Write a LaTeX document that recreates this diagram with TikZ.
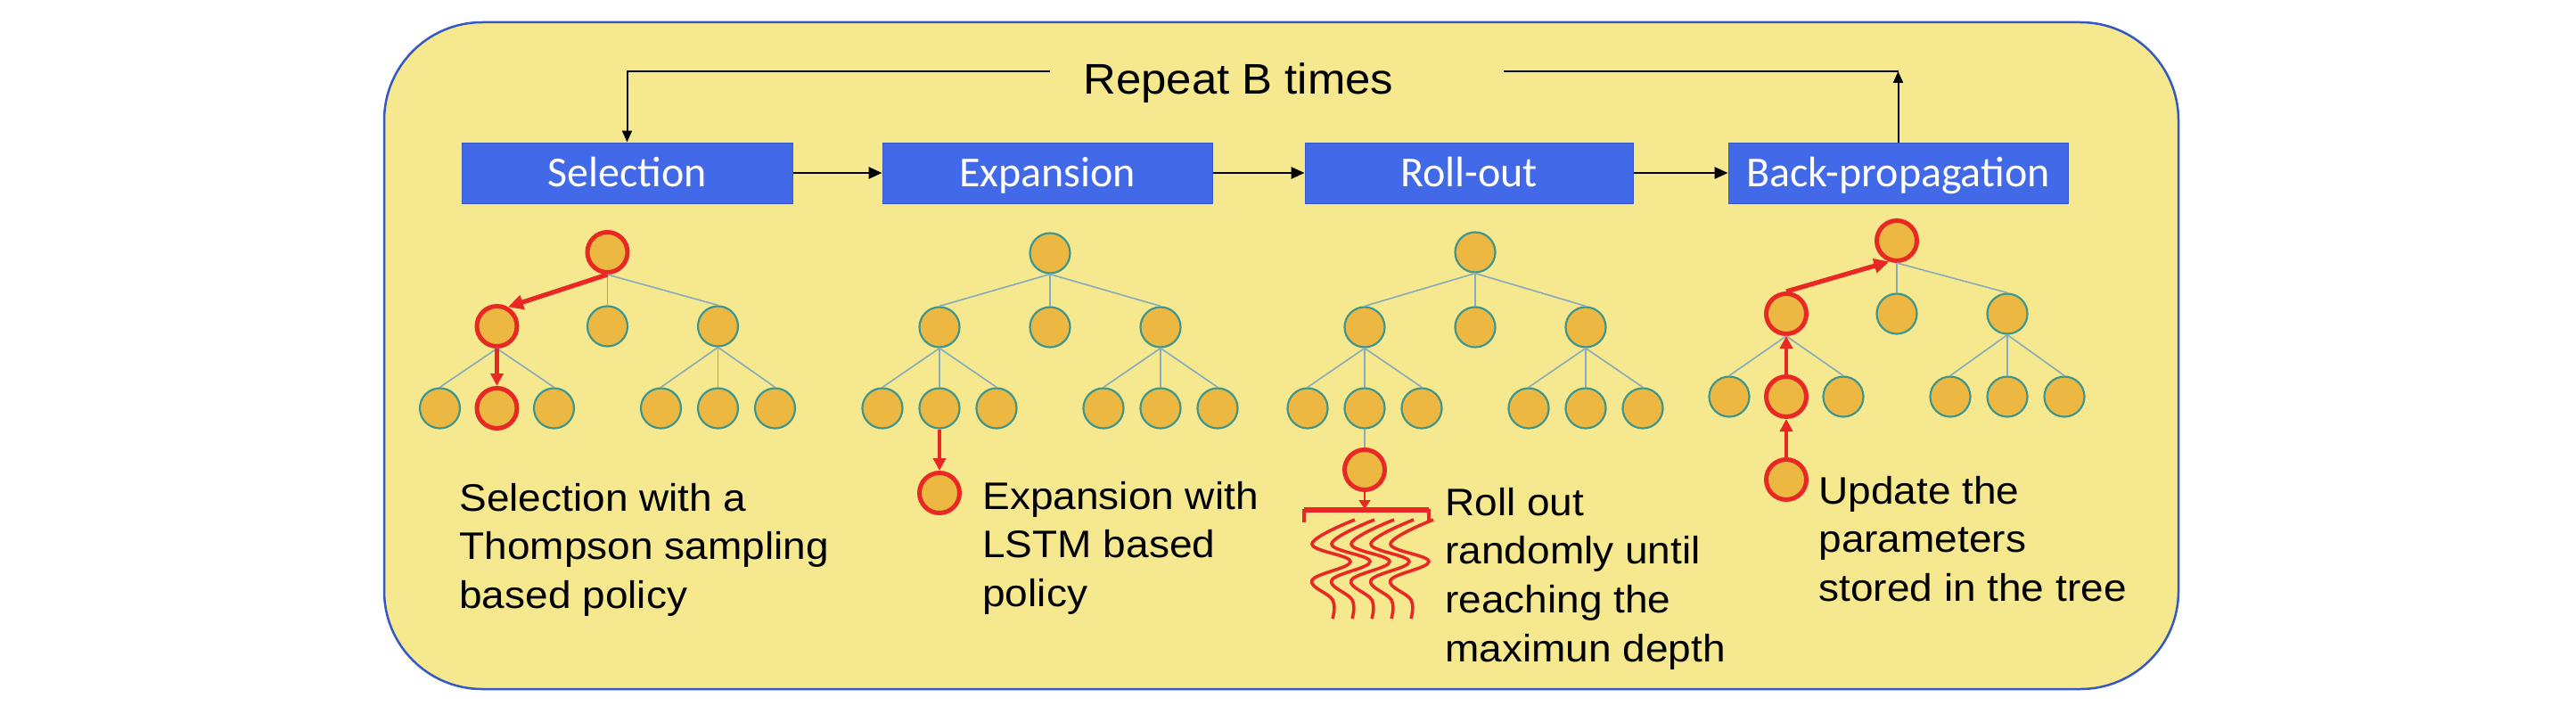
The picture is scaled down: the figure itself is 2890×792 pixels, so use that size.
\documentclass[tikz,border=0pt]{standalone}
\usepackage{fontspec}
\setmainfont[FakeStretch=1.07]{Liberation Sans}
\newfontfamily\titlefont[FakeStretch=1.06]{Liberation Sans}
\newfontfamily\boxfont{Carlito}
\usetikzlibrary{arrows.meta}
\definecolor{bgyellow}{RGB}{245,232,142}
\definecolor{frameblue}{RGB}{52,88,196}
\definecolor{boxblue}{RGB}{66,106,232}
\definecolor{nodefill}{RGB}{236,184,66}
\definecolor{nodeline}{RGB}{62,150,140}
\definecolor{edgecol}{RGB}{135,170,188}
\definecolor{hired}{RGB}{232,40,36}
\newcommand\tblock[1]{\vtop{\baselineskip=27.4pt #1}}
\newcommand\mctstree[5]{%
  \node[tn,hl-#1/.try] (#1) at (#2,#3) {};
  \node[tn,hl-#1a/.try] (#1a) at (#2-124,#4) {};
  \node[tn,hl-#1b/.try] (#1b) at (#2,#4) {};
  \node[tn,hl-#1c/.try] (#1c) at (#2+124,#4) {};
  \node[tn,hl-#1aa/.try] (#1aa) at (#2-188,#5) {};
  \node[tn,hl-#1ab/.try] (#1ab) at (#2-124,#5) {};
  \node[tn,hl-#1ac/.try] (#1ac) at (#2-60,#5) {};
  \node[tn,hl-#1ca/.try] (#1ca) at (#2+60,#5) {};
  \node[tn,hl-#1cb/.try] (#1cb) at (#2+124,#5) {};
  \node[tn,hl-#1cc/.try] (#1cc) at (#2+188,#5) {};
  \draw[treeedge,e-#1a/.try] (#1.south) -- (#1a.north);
  \draw[treeedge,e-#1b/.try] (#1.south) -- (#1b.north);
  \draw[treeedge,e-#1c/.try] (#1.south) -- (#1c.north);
  \draw[treeedge,e-#1aa/.try] (#1a.south) -- (#1aa.north);
  \draw[treeedge,e-#1ab/.try] (#1a.south) -- (#1ab.north);
  \draw[treeedge,e-#1ac/.try] (#1a.south) -- (#1ac.north);
  \draw[treeedge,e-#1ca/.try] (#1c.south) -- (#1ca.north);
  \draw[treeedge,e-#1cb/.try] (#1c.south) -- (#1cb.north);
  \draw[treeedge,e-#1cc/.try] (#1c.south) -- (#1cc.north);
}
\newcommand\squig[1]{%
  \draw[squigline] plot[smooth,tension=0.65] coordinates
    {(#1+25,583) (#1-23,610) (#1+20,630) (#1-23,651) (#1,673) (#1,694)};
}
\begin{document}
\begin{tikzpicture}[x=0.5pt,y=-0.5pt,
  stepbox/.style={rectangle, fill=boxblue, draw=boxblue!85!black, line width=0.5pt,
    minimum height=34pt, text height=15pt, text depth=0pt, inner sep=0pt,
    text=white, font=\boxfont\fontsize{24pt}{28pt}\selectfont},
  tn/.style={circle, fill=nodefill, draw=nodeline, line width=1.1pt, minimum size=22.5pt, inner sep=0pt},
  rn/.style={tn, draw=hired, line width=2.5pt},
  treeedge/.style={draw=edgecol, line width=0.8pt},
  flow/.style={line width=1.3pt, -{Triangle[length=7.5pt,width=6.5pt]}},
  loopline/.style={line width=1pt},
  looparrow/.style={line width=1pt, -{Triangle[length=6.5pt,width=5.5pt]}},
  redthick/.style={draw=hired, line width=2.6pt, -{Triangle[length=8.5pt,width=8pt]}},
  redthin/.style={draw=hired, line width=2.1pt, -{Triangle[length=7pt,width=7pt]}},
  redsmall/.style={draw=hired, line width=1pt, -{Triangle[length=5pt,width=6.5pt]}},
  squigline/.style={draw=hired, line width=1.8pt},
  desc/.style={anchor=base west, inner sep=0pt, font=\fontsize{21.5pt}{27.4pt}\selectfont},
  hl-s/.style={rn}, hl-sa/.style={rn}, hl-sab/.style={rn},
  e-sa/.style={draw=none}, e-sab/.style={draw=none},
  hl-b/.style={rn}, hl-ba/.style={rn}, hl-bab/.style={rn},
  e-ba/.style={draw=none}, e-bab/.style={draw=none},
]
\useasboundingbox (0,0) rectangle (2890,792);
\fill[white] (0,0) rectangle (2890,792);
\draw[fill=bgyellow, draw=frameblue, line width=1.25pt, rounded corners=55pt] (431,25) rectangle (2444,773);

% step boxes
\node[stepbox, minimum width=185.5pt] (sel) at (703.5,194) {Selection};
\node[stepbox, minimum width=185pt] (exp) at (1175,194) {Expansion};
\node[stepbox, minimum width=184pt] (rol) at (1648,194) {Roll-out};
\node[stepbox, minimum width=190.5pt] (bp) at (2129.5,194) {Back-propagation};
\draw[flow] (sel) -- (exp);
\draw[flow] (exp) -- (rol);
\draw[flow] (rol) -- (bp);

% repeat loop
\node[anchor=base west, inner sep=0pt, font=\titlefont\fontsize{24pt}{28pt}\selectfont] (rep) at (1215,105) {Repeat B times};
\coordinate (lA) at (1178,80);
\coordinate (lB) at (703.5,80);
\coordinate (rA) at (1687,80);
\coordinate (rB) at (2129.5,80);
\draw[looparrow] (lA) -- (lB) -- (sel.north);
\draw[looparrow] (bp.north) -- (rB);
\draw[loopline] (rB) -- (rA);

% trees
\mctstree{s}{681.5}{283}{366}{458}
\mctstree{e}{1178}{284}{367}{458}
\mctstree{r}{1655}{283}{367}{458}
\mctstree{b}{2128}{270}{352}{445}

% selection highlights
\draw[redthick] (s.south) -- (sa.60);
\draw[redthin] (sa.south) -- (sab.north);

% expansion
\node[rn] (eN) at (1054,553) {};
\draw[redthin] (eab.south) -- (eN.north);

% roll-out
\node[rn] (rN) at (1531,527) {};
\draw[treeedge] (rab.south) -- (rN.north);
\coordinate (bar) at (1531,571);
\draw[redsmall] (rN.south) -- (bar);
\draw[hired, line width=3pt] (1463,572) -- (1603,572);
\draw[hired, line width=1.8pt] (1463,571) -- (1463,586);
\draw[hired, line width=1.8pt] (1603,571) -- (1603,586);
\squig{1495}
\squig{1517}
\squig{1539}
\squig{1561}
\squig{1583}

% back-propagation
\node[rn] (bN) at (2004,538) {};
\draw[redthin] (bN.north) -- (bab.south);
\draw[redthin] (bab.north) -- (ba.south);
\draw[redthick] (ba.north) -- (b.250);

% descriptions
\node[desc] (tsel) at (515,573) {\tblock{\hbox{Selection with a}\hbox{Thompson sampling}\hbox{based policy}}};
\node[desc] (texp) at (1102,571) {\tblock{\hbox{Expansion with}\hbox{LSTM based}\hbox{policy}}};
\node[desc] (trol) at (1621,578) {\tblock{\hbox{Roll out}\hbox{randomly until}\hbox{reaching the}\hbox{maximun depth}}};
\node[desc] (tbp) at (2040,565) {\tblock{\hbox{Update the}\hbox{parameters}\hbox{stored in the tree}}};
\end{tikzpicture}
\end{document}
